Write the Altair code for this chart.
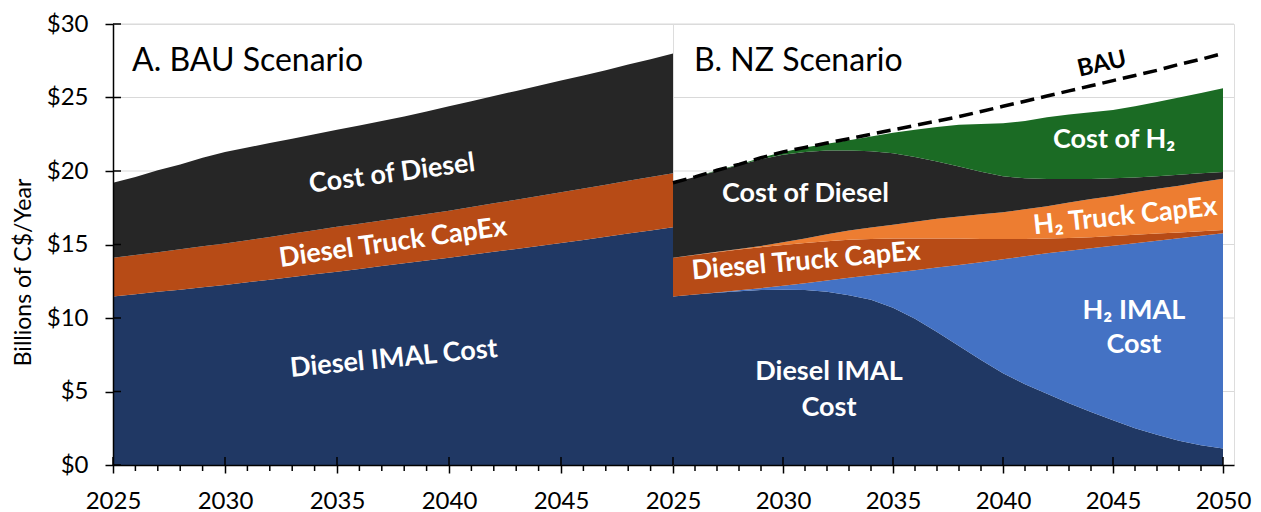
import altair as alt
import pandas as pd

# ---------------- data (billions of C$ per year) ----------------
YEARS = list(range(2025, 2051))

# A. BAU scenario (stack components, bottom to top)
BAU_DIESEL_IMAL = [11.46, 11.62, 11.78, 11.93, 12.09, 12.25, 12.43, 12.61, 12.79, 12.97, 13.15, 13.34, 13.53,
                   13.72, 13.91, 14.10, 14.30, 14.50, 14.70, 14.90, 15.10, 15.31, 15.52, 15.74, 15.95, 16.17]
BAU_DIESEL_CAPEX = [2.64, 2.67, 2.70, 2.75, 2.79, 2.82, 2.86, 2.90, 2.95, 3.00, 3.05, 3.07, 3.10,
                    3.13, 3.16, 3.20, 3.25, 3.30, 3.35, 3.40, 3.45, 3.50, 3.55, 3.59, 3.64, 3.68]
BAU_DIESEL_FUEL = [5.10, 5.31, 5.57, 5.77, 6.02, 6.23, 6.31, 6.39, 6.46, 6.53, 6.60, 6.69, 6.77,
                   6.85, 6.98, 7.10, 7.20, 7.30, 7.40, 7.50, 7.60, 7.69, 7.78, 7.92, 8.01, 8.15]

# B. NZ scenario (stack components, bottom to top)
NZ_DIESEL_IMAL = [11.46, 11.60, 11.72, 11.82, 11.90, 11.93, 11.90, 11.78, 11.55, 11.25, 10.70, 9.95, 9.05,
                  8.10, 7.15, 6.25, 5.50, 4.85, 4.20, 3.60, 3.05, 2.50, 2.05, 1.65, 1.35, 1.13]
NZ_H2_IMAL = [0.00, 0.00, 0.02, 0.06, 0.13, 0.27, 0.47, 0.77, 1.18, 1.65, 2.38, 3.30, 4.38,
              5.50, 6.65, 7.75, 8.70, 9.55, 10.38, 11.15, 11.87, 12.59, 13.21, 13.78, 14.25, 14.63]
NZ_DIESEL_CAPEX = [2.64, 2.69, 2.74, 2.78, 2.79, 2.77, 2.73, 2.67, 2.59, 2.48, 2.32, 2.15, 1.97,
                   1.80, 1.58, 1.37, 1.17, 1.00, 0.87, 0.75, 0.66, 0.57, 0.48, 0.39, 0.30, 0.22]
NZ_H2_CAPEX = [0.00, 0.01, 0.02, 0.04, 0.08, 0.18, 0.30, 0.48, 0.63, 0.77, 0.95, 1.15, 1.35,
               1.50, 1.67, 1.83, 2.03, 2.20, 2.40, 2.60, 2.72, 2.89, 3.06, 3.18, 3.35, 3.50]
NZ_DIESEL_FUEL = [5.10, 5.30, 5.50, 5.70, 5.90, 5.95, 5.90, 5.70, 5.45, 5.20, 4.85, 4.40, 3.90,
                  3.40, 2.90, 2.45, 2.10, 1.85, 1.60, 1.35, 1.20, 1.00, 0.85, 0.75, 0.60, 0.45]
NZ_H2_FUEL = [0.00, 0.00, 0.05, 0.05, 0.10, 0.20, 0.30, 0.45, 0.70, 1.00, 1.40, 1.85, 2.35,
              2.85, 3.25, 3.60, 3.90, 4.20, 4.40, 4.55, 4.65, 4.85, 5.05, 5.25, 5.45, 5.70]

SERIES = ["Diesel IMAL Cost", "H2 IMAL Cost", "Diesel Truck CapEx", "H2 Truck CapEx",
          "Cost of Diesel", "Cost of H2"]
COLORS = ["#203864", "#4472C4", "#B74B16", "#ED7D31", "#262626", "#1B6B24"]

Y_TICKS = [0, 5, 10, 15, 20, 25, 30]
GRID_VALUES = [5, 10, 15, 20, 25, 30]
LEFT_LABEL_YEARS = [2025, 2030, 2035, 2040, 2045]
RIGHT_LABEL_YEARS = [2025, 2030, 2035, 2040, 2045, 2050]
MINOR_YEARS = [y for y in YEARS if y % 5 != 0]

# in-area labels
LEFT_TEXT = ["Cost of Diesel", "Diesel Truck CapEx", "Diesel IMAL Cost"]
LEFT_TEXT_YEAR = [2037.46, 2037.5, 2037.54]
LEFT_TEXT_VALUE = [19.8, 15.1, 7.21]
LEFT_TEXT_ANGLE = [352.5, 352, 354.5]

RIGHT_TEXT = ["Cost of Diesel", "Diesel Truck CapEx", "Cost of H₂", "H₂ Truck CapEx",
              "H₂ IMAL", "Cost", "Diesel IMAL", "Cost"]
RIGHT_TEXT_YEAR = [2031.02, 2031.05, 2045.05, 2045.55, 2045.95, 2045.95, 2032.09, 2032.09]
RIGHT_TEXT_VALUE = [18.44, 13.84, 22.1, 16.9, 10.46, 8.16, 6.33, 3.9]
RIGHT_TEXT_ANGLE = [0, 355, 0, 354, 0, 0, 0, 0]

PANEL_TITLES = ["A. BAU Scenario", "B. NZ Scenario"]
PANEL_TITLE_YEAR = [2025.85, 2025.95]
PANEL_TITLE_VALUE = [27.5, 27.5]

BAU_LABEL = "BAU"
BAU_LABEL_YEAR = 2044.5
BAU_LABEL_VALUE = 27.25
BAU_LABEL_ANGLE = 347

# ---------------- tables ----------------
def long_table(parts):
    rows = []
    for order, (name, vals) in enumerate(parts):
        for yr, v in zip(YEARS, vals):
            rows.append({"year": yr, "series": name, "value": v, "order": order})
    return pd.DataFrame(rows)

bau_df = long_table([("Diesel IMAL Cost", BAU_DIESEL_IMAL),
                     ("Diesel Truck CapEx", BAU_DIESEL_CAPEX),
                     ("Cost of Diesel", BAU_DIESEL_FUEL)])
nz_df = long_table([("Diesel IMAL Cost", NZ_DIESEL_IMAL),
                    ("H2 IMAL Cost", NZ_H2_IMAL),
                    ("Diesel Truck CapEx", NZ_DIESEL_CAPEX),
                    ("H2 Truck CapEx", NZ_H2_CAPEX),
                    ("Cost of Diesel", NZ_DIESEL_FUEL),
                    ("Cost of H2", NZ_H2_FUEL)])
bau_total_df = pd.DataFrame({"year": YEARS,
                             "total": [a + b + c for a, b, c in zip(BAU_DIESEL_IMAL, BAU_DIESEL_CAPEX, BAU_DIESEL_FUEL)]})

H = 441
WL = 560
WR = 561
FONT = "Lato"
LABEL_SIZE = 27

yscale = alt.Scale(domain=[0, 30], nice=False, zero=True)
color_scale = alt.Scale(domain=SERIES, range=COLORS)

axis_common = dict(labelFont=FONT, labelFontSize=24, labelColor="black", tickColor="black",
                   tickWidth=1.5, tickSize=8, domainColor="black", domainWidth=1.5, grid=False, zindex=1)


def make_x_axis(values):
    return alt.Axis(values=values, format="d", title=None, labelFlush=False, labelOverlap=False,
                    labelPadding=16, **axis_common)


Y_AXIS_LEFT = alt.Axis(values=Y_TICKS, labelExpr="'$' + datum.value", title="Billions of C$/Year",
                       titleFont=FONT, titleFontSize=23, titleFontWeight="normal", titleColor="black",
                       titlePadding=11, titleY=248, labelPadding=17, **axis_common)


def panel(df, width, xdom, label_years, texts, with_y_axis, title_text, title_year, title_value, bau=False):
    xscale = alt.Scale(domain=xdom, nice=False, zero=False)
    xaxis = make_x_axis(label_years)
    yaxis = Y_AXIS_LEFT if with_y_axis else None

    def X(field):
        return alt.X(field, scale=xscale, axis=xaxis)

    def Y(field, **kw):
        return alt.Y(field, scale=yscale, axis=yaxis, **kw)

    grid = alt.Chart(pd.DataFrame({"v": GRID_VALUES})).mark_rule(color="#d9d9d9", strokeWidth=1).encode(
        y=Y("v:Q"))

    area = alt.Chart(df).mark_area(opacity=1).encode(
        x=X("year:Q"),
        y=Y("value:Q", stack="zero"),
        color=alt.Color("series:N", scale=color_scale, legend=None),
        order=alt.Order("order:Q", sort="ascending"),
    )

    layers = [grid, area]

    if bau:
        bau_line = alt.Chart(bau_total_df).mark_line(color="black", strokeWidth=3.5, strokeDash=[14, 7]).encode(
            x=X("year:Q"), y=Y("total:Q"))
        bau_text = alt.Chart(pd.DataFrame({"year": [BAU_LABEL_YEAR], "value": [BAU_LABEL_VALUE],
                                           "text": [BAU_LABEL], "angle": [BAU_LABEL_ANGLE]})).mark_text(
            font=FONT, fontSize=24, fontWeight="bold", color="black", align="center", baseline="middle").encode(
            x=X("year:Q"), y=Y("value:Q"), text="text:N", angle=alt.Angle("angle:Q", scale=None))
        layers += [bau_line, bau_text]

    title = alt.Chart(pd.DataFrame({"year": [title_year], "value": [title_value], "text": [title_text]})).mark_text(
        font=FONT, fontSize=32, color="black", align="left", baseline="middle").encode(
        x=X("year:Q"), y=Y("value:Q"), text="text:N")
    layers.append(title)

    minor = alt.Chart(pd.DataFrame({"year": MINOR_YEARS})).mark_rule(color="black", strokeWidth=1.5).encode(
        x=X("year:Q"), y=alt.value(H), y2=alt.value(H + 6))
    major_in = alt.Chart(pd.DataFrame({"year": label_years})).mark_rule(color="black", strokeWidth=1.5).encode(
        x=X("year:Q"), y=alt.value(H - 8), y2=alt.value(H))
    layers += [minor, major_in]

    if with_y_axis:
        y_in = alt.Chart(pd.DataFrame({"v": Y_TICKS})).mark_rule(color="black", strokeWidth=1.5).encode(
            y=Y("v:Q"), x=alt.value(0), x2=alt.value(8))
        layers.append(y_in)

    txt = alt.Chart(texts).mark_text(font=FONT, fontWeight="bold", fontSize=LABEL_SIZE, color="white",
                                     align="center", baseline="middle").encode(
        x=X("year:Q"),
        y=Y("value:Q"),
        text="text:N",
        angle=alt.Angle("angle:Q", scale=None),
    )
    layers.append(txt)
    return alt.layer(*layers).properties(width=width, height=H)


left_texts = pd.DataFrame({"year": LEFT_TEXT_YEAR, "value": LEFT_TEXT_VALUE, "text": LEFT_TEXT,
                           "angle": LEFT_TEXT_ANGLE})
right_texts = pd.DataFrame({"year": RIGHT_TEXT_YEAR, "value": RIGHT_TEXT_VALUE, "text": RIGHT_TEXT,
                            "angle": RIGHT_TEXT_ANGLE})

left = panel(bau_df, WL, [2025, 2050], LEFT_LABEL_YEARS, left_texts, True,
             PANEL_TITLES[0], PANEL_TITLE_YEAR[0], PANEL_TITLE_VALUE[0])
right = panel(nz_df, WR, [2025, 2050.5], RIGHT_LABEL_YEARS, right_texts, False,
              PANEL_TITLES[1], PANEL_TITLE_YEAR[1], PANEL_TITLE_VALUE[1], bau=True)

chart = alt.hconcat(left, right, spacing=0, bounds="flush").properties(
    padding={"left": 3, "top": 3, "right": 0, "bottom": 0}
).configure_view(stroke="#d9d9d9", strokeWidth=1).configure(font=FONT)

chart.save("out.html", embed_options={"renderer": "svg", "actions": False})
